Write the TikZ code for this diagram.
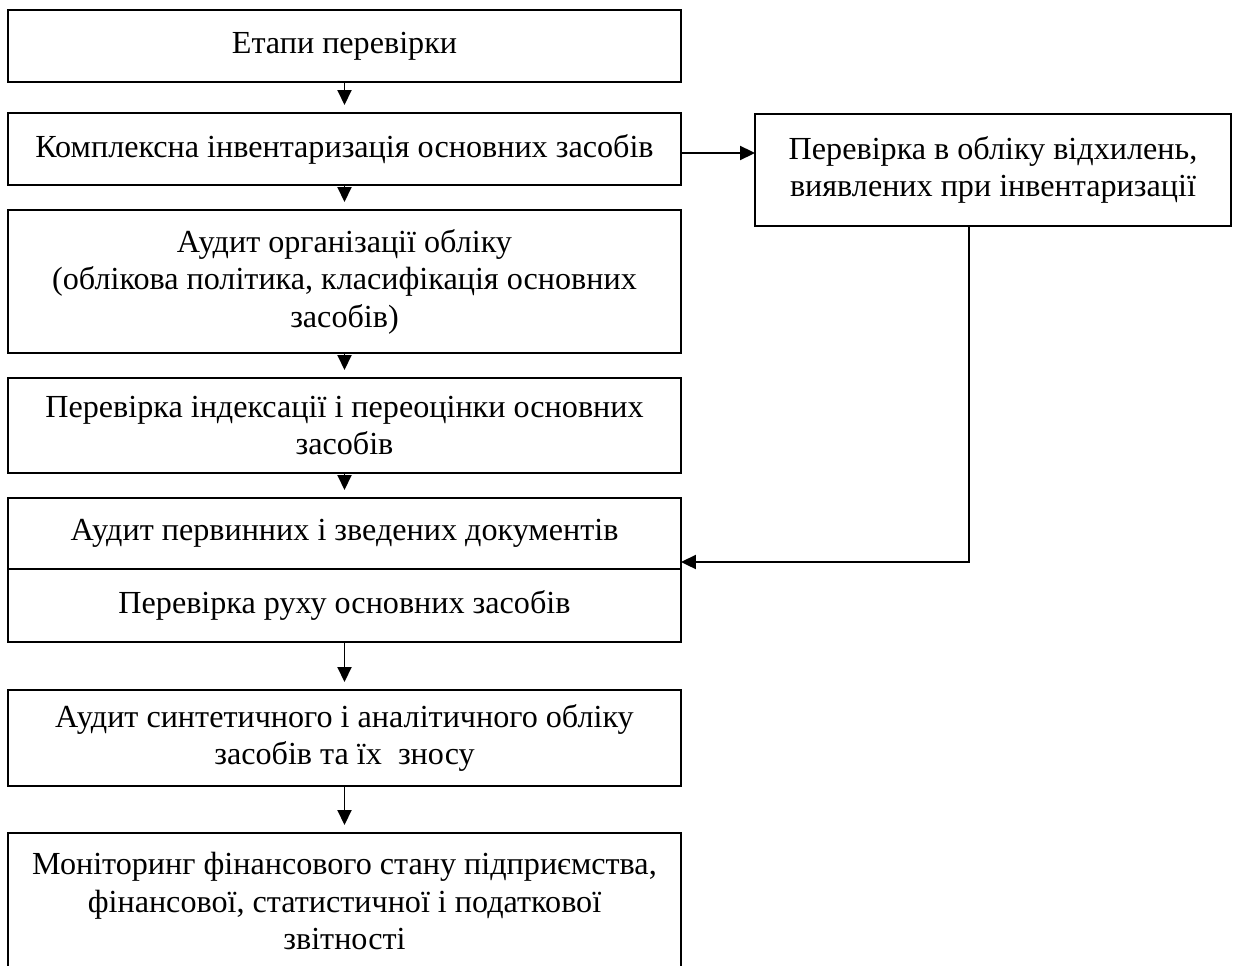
\documentclass[tikz,border=0pt]{standalone}
\usepackage{fontspec}
\setmainfont{Liberation Serif}
\usetikzlibrary{arrows.meta,positioning,calc}

\begin{document}
\begin{tikzpicture}[x=0.02cm,y=-0.02cm,every node/.style={font=\fontsize{18.3}{21.3}\selectfont}]

\def\boxW{13.46cm}
\def\sideW{9.52cm}
\def\lineW{1.1pt}

\tikzset{
  stage/.style={draw,line width=\lineW,minimum width=\boxW,inner sep=0pt,outer sep=0pt,align=center},
  sidebox/.style={stage,minimum width=\sideW},
  arr/.style={line width=\lineW,-{Triangle[length=0.3cm,width=0.28cm]}}
}

\useasboundingbox (0,0) rectangle (1233,966);
\clip (0,0) rectangle (1233,966);

%% main column of stages
\node[stage,minimum height=1.44cm] (s1) at (344.5,46) {Етапи перевірки};
\node[stage,minimum height=1.44cm] (s2) at (344.5,149) {Комплексна інвентаризація основних засобів};
\node[stage,minimum height=2.86cm] (s3) at (344.5,281.5) {Аудит організації обліку\\(облікова політика, класифікація основних\\засобів)};
\node[stage,minimum height=1.9cm] (s4) at (344.5,425.5) {Перевірка індексації і переоцінки основних\\засобів};
\node[stage,minimum height=1.42cm] (s5a) at (344.5,533.5) {Аудит первинних і зведених документів};
\node[stage,minimum height=1.46cm] (s5b) at (344.5,605.5) {Перевірка руху основних засобів};
\node[stage,minimum height=1.92cm] (s6) at (344.5,738) {Аудит синтетичного і аналітичного обліку\\засобів та їх~ зносу};
\node[stage,minimum height=2.72cm] (s7) at (344.5,901) {Моніторинг фінансового стану підприємства,\\фінансової, статистичної і податкової\\звітності};

%% side check
\node[sidebox,minimum height=2.24cm] (side) at (993,170) {Перевірка в обліку відхилень,\\виявлених при інвентаризації};

%% arrows
\foreach \a/\b in {s1/s2,s2/s3,s3/s4,s4/s5a,s5b/s6,s6/s7}
  \draw[arr,shorten >=0.16cm] (\a.south) -- (\b.north);

\draw[arr] ([yshift=-0.08cm]s2.east) -- ([yshift=-0.08cm]s2.east -| side.west);
\draw[arr] ([xshift=-0.48cm]side.south) |- ([yshift=0.14cm]s5b.north east);

\end{tikzpicture}
\end{document}
